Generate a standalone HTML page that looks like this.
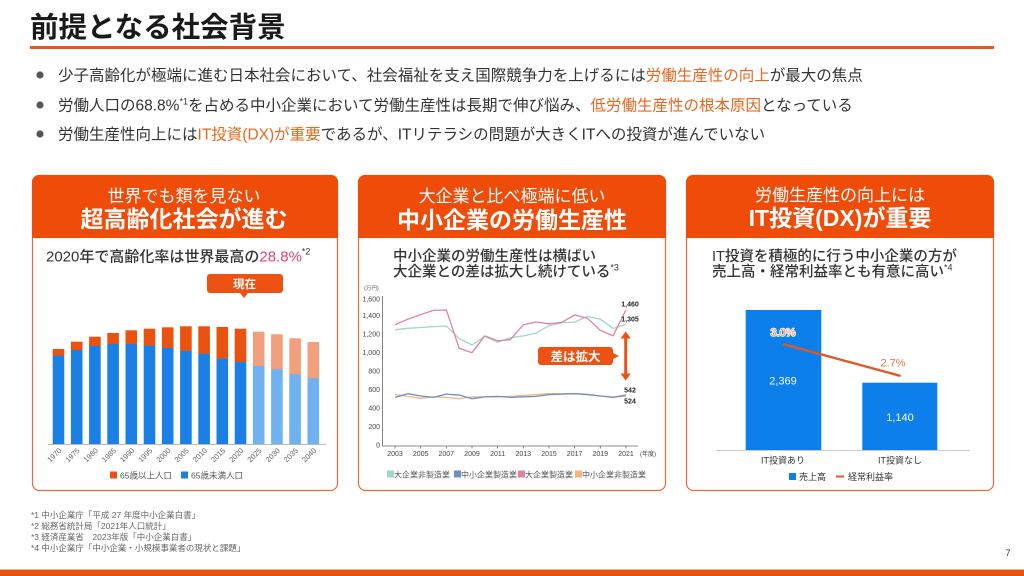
<!DOCTYPE html>
<html><head><meta charset="utf-8">
<style>
html,body{margin:0;padding:0;background:#fff;}
svg{display:block;font-family:"Liberation Sans","Noto Sans CJK JP",sans-serif;}
</style></head>
<body>
<svg width="1024" height="576" viewBox="0 0 1024 576" xmlns="http://www.w3.org/2000/svg">
<rect width="1024" height="576" fill="#fff"/>
<!-- Title -->
<text x="30" y="37" font-size="28.5" font-weight="bold" fill="#1a1a1a">前提となる社会背景</text>
<rect x="30" y="46" width="964" height="3" fill="#e8561a"/>

<!-- Bullets -->
<g font-size="15.5" fill="#333">
<circle cx="40" cy="75" r="3.6" fill="#555"/>
<text x="58" y="80.5">少子高齢化が極端に進む日本社会において、社会福祉を支え国際競争力を上げるには<tspan fill="#e8671f">労働生産性の向上</tspan>が最大の焦点</text>
<circle cx="40" cy="105" r="3.6" fill="#555"/>
<text x="58" y="110.5">労働人口の68.8%<tspan font-size="9" dy="-6">*1</tspan><tspan dy="6">を占める中小企業において労働生産性は長期で伸び悩み、</tspan><tspan fill="#e8671f">低労働生産性の根本原因</tspan>となっている</text>
<circle cx="40" cy="134" r="3.6" fill="#555"/>
<text x="58" y="139.5">労働生産性向上には<tspan fill="#e8671f">IT投資(DX)が重要</tspan>であるが、ITリテラシの問題が大きくITへの投資が進んでいない</text>
</g>

<!-- Cards -->
<g>
<rect x="32.5" y="175.5" width="305" height="315" rx="7" fill="#fff" stroke="#ec6a3a" stroke-width="1.2"/>
<path d="M32,182 a7,7 0 0 1 7,-7 h292 a7,7 0 0 1 7,7 v56 h-306 z" fill="#ef4c0a"/>
<rect x="358.5" y="175.5" width="307" height="315" rx="7" fill="#fff" stroke="#ec6a3a" stroke-width="1.2"/>
<path d="M358,182 a7,7 0 0 1 7,-7 h294 a7,7 0 0 1 7,7 v56 h-308 z" fill="#ef4c0a"/>
<rect x="686.5" y="175.5" width="307" height="315" rx="7" fill="#fff" stroke="#ec6a3a" stroke-width="1.2"/>
<path d="M686,182 a7,7 0 0 1 7,-7 h294 a7,7 0 0 1 7,7 v56 h-308 z" fill="#ef4c0a"/>
</g>

<!-- Card headers -->
<g fill="#fff" text-anchor="middle">
<text x="184" y="202" font-size="17">世界でも類を見ない</text>
<text x="184" y="227" font-size="23" font-weight="bold">超高齢化社会が進む</text>
<text x="512" y="202" font-size="17">大企業と比べ極端に低い</text>
<text x="512" y="228" font-size="23" font-weight="bold">中小企業の労働生産性</text>
<text x="840" y="201" font-size="17">労働生産性の向上には</text>
<text x="840" y="226" font-size="23" font-weight="bold">IT投資(DX)が重要</text>
</g>

<!-- Card 1 content -->
<text x="46" y="261.5" font-size="15" font-weight="500" fill="#333">2020年で高齢化率は世界最高の<tspan fill="#e0456f">28.8%</tspan><tspan font-size="9" dy="-7">*2</tspan></text>
<path d="M210,274 h70 a3,3 0 0 1 3,3 v13 a3,3 0 0 1 -3,3 h-32 l-4,5 l-4,-5 h-30 a3,3 0 0 1 -3,-3 v-13 a3,3 0 0 1 3,-3 z" fill="#ee5212"/>
<text x="244.5" y="288" font-size="11.5" font-weight="bold" fill="#fff" text-anchor="middle">現在</text>
<g>
<!-- bars: x0=52.7 pitch 18.2 w 11.6 baseline 444 -->
<rect x="52.7" y="349" width="11.6" height="7" fill="#ea5210"/><rect x="52.7" y="355.7" width="11.6" height="88.3" fill="#1a80e4"/>
<rect x="70.9" y="341.7" width="11.6" height="8.5" fill="#ea5210"/><rect x="70.9" y="350" width="11.6" height="94" fill="#1a80e4"/>
<rect x="89.1" y="336.7" width="11.6" height="9.5" fill="#ea5210"/><rect x="89.1" y="346" width="11.6" height="98" fill="#1a80e4"/>
<rect x="107.3" y="333" width="11.6" height="11.2" fill="#ea5210"/><rect x="107.3" y="344" width="11.6" height="100" fill="#1a80e4"/>
<rect x="125.5" y="330.3" width="11.6" height="14" fill="#ea5210"/><rect x="125.5" y="344" width="11.6" height="100" fill="#1a80e4"/>
<rect x="143.7" y="328.7" width="11.6" height="17.2" fill="#ea5210"/><rect x="143.7" y="345.7" width="11.6" height="98.3" fill="#1a80e4"/>
<rect x="161.9" y="327.3" width="11.6" height="20.9" fill="#ea5210"/><rect x="161.9" y="348" width="11.6" height="96" fill="#1a80e4"/>
<rect x="180.1" y="326.3" width="11.6" height="24.9" fill="#ea5210"/><rect x="180.1" y="351" width="11.6" height="93" fill="#1a80e4"/>
<rect x="198.3" y="326.3" width="11.6" height="27.6" fill="#ea5210"/><rect x="198.3" y="353.7" width="11.6" height="90.3" fill="#1a80e4"/>
<rect x="216.5" y="327" width="11.6" height="31.9" fill="#ea5210"/><rect x="216.5" y="358.7" width="11.6" height="85.3" fill="#1a80e4"/>
<rect x="234.7" y="328.7" width="11.6" height="33.5" fill="#ea5210"/><rect x="234.7" y="362" width="11.6" height="82" fill="#1a80e4"/>
<rect x="252.9" y="331.7" width="11.6" height="34.5" fill="#f19f7c"/><rect x="252.9" y="366" width="11.6" height="78" fill="#6fb2ef"/>
<rect x="271.1" y="334.3" width="11.6" height="35.2" fill="#f19f7c"/><rect x="271.1" y="369.3" width="11.6" height="74.7" fill="#6fb2ef"/>
<rect x="289.3" y="338.3" width="11.6" height="35.9" fill="#f19f7c"/><rect x="289.3" y="374" width="11.6" height="70" fill="#6fb2ef"/>
<rect x="307.5" y="342" width="11.6" height="36.2" fill="#f19f7c"/><rect x="307.5" y="378" width="11.6" height="66" fill="#6fb2ef"/>
<line x1="48" y1="444.5" x2="326" y2="444.5" stroke="#bbb" stroke-width="1"/>
</g>
<g font-size="7.5" fill="#666" text-anchor="end">
<text transform="translate(62,451) rotate(-45)">1970</text>
<text transform="translate(80.2,451) rotate(-45)">1975</text>
<text transform="translate(98.4,451) rotate(-45)">1980</text>
<text transform="translate(116.6,451) rotate(-45)">1985</text>
<text transform="translate(134.8,451) rotate(-45)">1990</text>
<text transform="translate(153,451) rotate(-45)">1995</text>
<text transform="translate(171.2,451) rotate(-45)">2000</text>
<text transform="translate(189.4,451) rotate(-45)">2005</text>
<text transform="translate(207.6,451) rotate(-45)">2010</text>
<text transform="translate(225.8,451) rotate(-45)">2015</text>
<text transform="translate(244,451) rotate(-45)">2020</text>
<text transform="translate(262.2,451) rotate(-45)">2025</text>
<text transform="translate(280.4,451) rotate(-45)">2030</text>
<text transform="translate(298.6,451) rotate(-45)">2035</text>
<text transform="translate(316.8,451) rotate(-45)">2040</text>
</g>
<rect x="110" y="471.5" width="7" height="7" fill="#ea5210"/>
<text x="120" y="478.5" font-size="8.5" fill="#555">65歳以上人口</text>
<rect x="181" y="471.5" width="7" height="7" fill="#1a80e4"/>
<text x="191" y="478.5" font-size="8.5" fill="#555">65歳未満人口</text>

<!-- Card 2 content -->
<text x="393" y="261" font-size="14.5" font-weight="500" fill="#333">中小企業の労働生産性は横ばい</text>
<text x="393" y="276.5" font-size="14.5" font-weight="500" fill="#333">大企業との差は拡大し続けている<tspan font-size="9" dy="-6">*3</tspan></text>
<text x="364" y="290" font-size="5.5" fill="#555">(万円)</text>
<g font-size="7" fill="#444" text-anchor="end">
<text x="380" y="447.5">0</text>
<text x="380" y="429">200</text>
<text x="380" y="410.5">400</text>
<text x="380" y="392">600</text>
<text x="380" y="373.5">800</text>
<text x="380" y="355">1,000</text>
<text x="380" y="336.5">1,200</text>
<text x="380" y="318">1,400</text>
<text x="380" y="301.5">1,600</text>
</g>
<line x1="382.5" y1="296" x2="382.5" y2="446" stroke="#666" stroke-width="0.8"/>
<line x1="382.5" y1="446" x2="638" y2="446" stroke="#666" stroke-width="0.8"/>
<g stroke="#666" stroke-width="0.8">
<line x1="395" y1="446" x2="395" y2="448.5"/><line x1="420.7" y1="446" x2="420.7" y2="448.5"/><line x1="446.3" y1="446" x2="446.3" y2="448.5"/><line x1="472" y1="446" x2="472" y2="448.5"/><line x1="497.6" y1="446" x2="497.6" y2="448.5"/><line x1="523.3" y1="446" x2="523.3" y2="448.5"/><line x1="549" y1="446" x2="549" y2="448.5"/><line x1="574.6" y1="446" x2="574.6" y2="448.5"/><line x1="600.3" y1="446" x2="600.3" y2="448.5"/><line x1="626" y1="446" x2="626" y2="448.5"/>
</g>
<g font-size="7" fill="#444" text-anchor="middle">
<text x="395" y="456">2003</text><text x="420.7" y="456">2005</text><text x="446.3" y="456">2007</text><text x="472" y="456">2009</text><text x="497.6" y="456">2011</text><text x="523.3" y="456">2013</text><text x="549" y="456">2015</text><text x="574.6" y="456">2017</text><text x="600.3" y="456">2019</text><text x="626" y="456">2021</text>
<text x="648" y="456" font-size="6">(年度)</text>
</g>
<g fill="none" stroke-width="1.3" stroke-linejoin="round">
<polyline stroke="#a3d6c6" points="395,329.8 407.83,328.3 420.66,327.5 433.49,326.6 446.32,326.1 459.15,338.6 471.98,345.1 484.81,336.3 497.64,342.3 510.47,337.7 523.3,335.85 536.13,333.1 548.96,325.7 561.79,322.9 574.62,322 587.45,316.4 600.28,319.2 613.11,328.45 625.94,324.3"/>
<polyline stroke="#e0849a" points="395,324.75 407.83,319.2 420.66,314.6 433.49,310.4 446.32,309.95 459.15,348.3 471.98,352.7 484.81,335.85 497.64,340.9 510.47,339.55 523.3,324.75 536.13,322 548.96,323.8 561.79,322.4 574.62,315 587.45,318.3 600.28,330.3 613.11,335.85 625.94,309.95"/>
<polyline stroke="#f5b57c" points="395,394.6 407.83,396.4 420.66,398.3 433.49,396.9 446.32,397.4 459.15,398.75 471.98,396.9 484.81,396.9 497.64,396.9 510.47,396.4 523.3,395.5 536.13,394.6 548.96,393.7 561.79,393.7 574.62,393.7 587.45,394.1 600.28,396 613.11,396.9 625.94,396.5"/>
<polyline stroke="#6d8ec6" points="395,397.4 407.83,393.7 420.66,396 433.49,397.4 446.32,394.1 459.15,395.05 471.98,398.75 484.81,396.9 497.64,396.4 510.47,397.4 523.3,396.9 536.13,396.4 548.96,394.6 561.79,394.1 574.62,393.7 587.45,394.6 600.28,396 613.11,397.4 625.94,394.9"/>
</g>
<g font-size="7" font-weight="bold" fill="#222" text-anchor="middle">
<text x="630" y="306.5">1,460</text>
<text x="630" y="321.5">1,305</text>
<text x="630" y="392.5">542</text>
<text x="630" y="403.5">524</text>
</g>
<!-- double arrow -->
<line x1="625.7" y1="336" x2="625.7" y2="376" stroke="#ee5212" stroke-width="3"/>
<polygon points="625.7,331.5 620.5,338.5 630.9,338.5" fill="#ee5212"/>
<polygon points="625.7,380.5 620.5,373.5 630.9,373.5" fill="#ee5212"/>
<path d="M541,347 h69 a3,3 0 0 1 3,3 v3 l6,3 l-6,3 v3 a3,3 0 0 1 -3,3 h-69 a3,3 0 0 1 -3,-3 v-12 a3,3 0 0 1 3,-3 z" fill="#ee5212"/>
<text x="575.5" y="361" font-size="12.5" font-weight="bold" fill="#fff" text-anchor="middle">差は拡大</text>
<g font-size="8" fill="#555">
<rect x="387" y="470.5" width="7" height="7" fill="#a3d6c6"/><text x="394" y="477.5">大企業非製造業</text>
<rect x="454" y="470.5" width="7" height="7" fill="#6d8ec6"/><text x="461" y="477.5">中小企業製造業</text>
<rect x="518" y="470.5" width="7" height="7" fill="#e0849a"/><text x="525" y="477.5">大企業製造業</text>
<rect x="575" y="470.5" width="7" height="7" fill="#f5b57c"/><text x="582" y="477.5">中小企業非製造業</text>
</g>

<!-- Card 3 content -->
<text x="712" y="261" font-size="14.5" font-weight="500" fill="#333">IT投資を積極的に行う中小企業の方が</text>
<text x="712" y="276.5" font-size="14.5" font-weight="500" fill="#333">売上高・経常利益率とも有意に高い<tspan font-size="9" dy="-6">*4</tspan></text>
<rect x="745.7" y="310" width="75.6" height="140" fill="#0c7fea"/>
<rect x="862.3" y="382.7" width="75" height="67.3" fill="#0c7fea"/>
<line x1="716" y1="450.5" x2="970" y2="450.5" stroke="#ccc" stroke-width="1"/>
<line x1="784" y1="344.3" x2="899.7" y2="375.7" stroke="#dc5a26" stroke-width="2.4" stroke-linecap="round"/>
<text x="783" y="336" font-size="11" fill="#ec9066" stroke="#fff" stroke-width="1.6" paint-order="stroke" text-anchor="middle">3.0%</text>
<text x="893" y="366.5" font-size="11" fill="#e07a45" text-anchor="middle">2.7%</text>
<text x="783" y="384.5" font-size="11" fill="#fff" text-anchor="middle">2,369</text>
<text x="900" y="421" font-size="11" fill="#fff" text-anchor="middle">1,140</text>
<text x="783" y="463.5" font-size="9" fill="#333" text-anchor="middle">IT投資あり</text>
<text x="900" y="463.5" font-size="9" fill="#333" text-anchor="middle">IT投資なし</text>
<rect x="789" y="473" width="7" height="7" fill="#0c7fea"/>
<text x="799" y="480" font-size="9" fill="#333">売上高</text>
<line x1="836" y1="476.5" x2="844" y2="476.5" stroke="#dc5a26" stroke-width="2"/>
<text x="848" y="480" font-size="9" fill="#333">経常利益率</text>

<!-- Footnotes -->
<g font-size="8.5" fill="#666">
<text x="31" y="518">*1 中小企業庁「平成 27 年度中小企業白書」</text>
<text x="31" y="529">*2 総務省統計局「2021年人口統計」</text>
<text x="31" y="540">*3 経済産業省　2023年版「中小企業白書」</text>
<text x="31" y="551">*4 中小企業庁「中小企業・小規模事業者の現状と課題」</text>
</g>
<text x="1008" y="556" font-size="9" fill="#333" text-anchor="middle">7</text>
<rect x="0" y="569" width="1024" height="1" fill="#f5b090"/>
<rect x="0" y="570" width="1024" height="6" fill="#ea5010"/>
</svg>
</body></html>
